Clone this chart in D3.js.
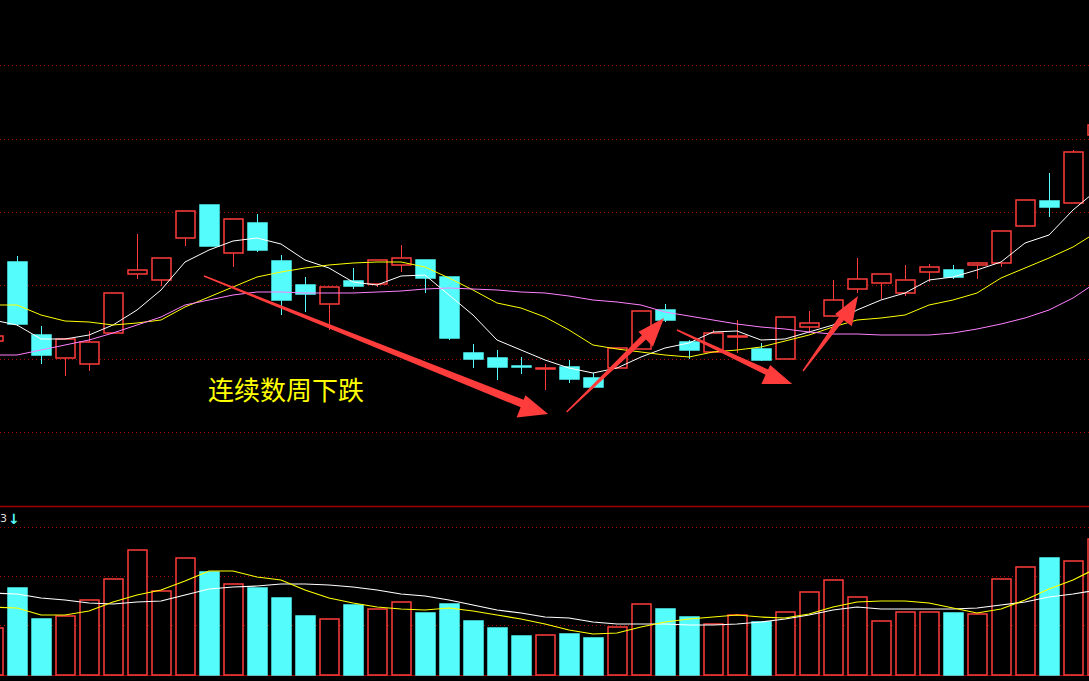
<!DOCTYPE html>
<html>
<head>
<meta charset="utf-8">
<script src="https://cdn.jsdelivr.net/npm/d3@7"></script>
<style>
  html, body { margin: 0; padding: 0; background: #000; overflow: hidden; }
  svg { display: block; }
</style>
</head>
<body>
<svg id="chart" width="1089" height="681"></svg>
<script>
// candles: [open, high, low, close]
const candles = [
  [159,164,159,164],[238,244,174,176],[165,174,136,145],[142,162,124,161],
  [136,169,129,158],[167,207,167,207],[226,266,221,230],[220,242,214,242],
  [262,289,254,289],[295,295,254,254],[247,281,233,281],[277,286,248,250],
  [239,245,185,200],[215,223,188,206],[196,213,170,213],[219,232,211,214],
  [216,240,213,240],[235,255,228,242],[240,240,207,222],[223,223,160,162],
  [147,156,132,141],[142,150,120,133],[134,143,126,133],[131,136,110,132],
  [133,140,117,121],[122,127,113,113],[132,152,132,152],[151,189,151,189],
  [190,196,178,180],[158,160,141,150],[148,170,148,167],[163,180,147,164],
  [151,157,139,140],[141,183,141,183],[173,189,167,177],[184,220,184,200],
  [211,242,207,221],[217,226,201,226],[207,235,204,220],[228,236,218,233],
  [230,235,221,223],[235,238,221,237],[237,269,233,269],[274,300,274,300],
  [299,327,283,293],[297,350,297,348],[365,380,360,375]
];
const ma5 = [180,175,161,161,165,175,190,210,238,250,259,262,256,240,232,218,215,224,225,205,
  185,160,150,140,132,127,132,143,152,157,168,169,160,161,168,175,190,200,207,220,
  223,230,238,257,265,290,310];
const ma10 = [195,195,185,179,178,175,177,180,193,203,213,223,228,232,235,237,238,238,233,222,
  210,197,192,183,170,155,151,148,145,143,148,150,153,159,165,173,180,182,185,195,
  200,207,222,232,242,253,268];
const ma20 = [145,145,150,155,160,167,175,183,195,200,205,208,208,207,207,207,208,209,211,212,
  211,210,208,207,204,200,198,195,188,184,180,176,173,171,168,166,166,165,165,165,
  167,171,176,182,190,202,218];
const volume = [47,87,56,59,75,96,125,84,117,103,91,87,77,59,56,70,66,73,62,71,
  54,47,39,40,41,37,48,71,66,58,51,60,53,63,83,95,78,54,63,63,
  62,61,96,108,117,114,136];
const volMa1 = [82,81,77,75,72,71,73,74,80,86,88,89,91,91,90,88,85,81,79,75,
  70,65,62,58,57,53,51,51,51,50,50,51,53,56,60,65,68,66,66,66,
  66,67,70,73,78,81,85];
const volMa2 = [68,67,60,60,64,73,80,85,94,104,104,98,95,85,77,72,68,66,65,67,
  64,60,56,51,45,41,42,48,53,56,58,60,58,57,61,68,73,74,74,72,
  67,62,66,75,86,95,107];
const priceGrid = [434.7, 361.3, 288, 214.7, 141.3, 68];
const volGrid = [148, 99, 50];
const arrows = [
  { from: [8.79, 224], to: [23.13, 86], w: 8 },
  { from: [23.9, 88], to: [27.96, 182], w: 6 },
  { from: [28.5, 170], to: [33.3, 116], w: 6 },
  { from: [33.75, 129], to: [36.04, 204], w: 6 }
];
const label = "连续数周下跌";

const UP = "#ff3c3c", DOWN = "#54fcfc", GRID = "#a00000";
const W = 1089;
const svg = d3.select("#chart");

const x = d3.scaleLinear().domain([0, 1]).range([-7, 17]);
const y = d3.scaleLinear().domain([0, 500]).range([500, 0]);
const yv = d3.scaleLinear().domain([0, 150]).range([675, 525]);
const bw = 19;

// grid
svg.append("g").selectAll("line").data(priceGrid).enter().append("line")
  .attr("x1", 0).attr("x2", W)
  .attr("y1", d => Math.round(y(d)) + 0.5).attr("y2", d => Math.round(y(d)) + 0.5)
  .attr("stroke", GRID).attr("stroke-dasharray", "1,3");
svg.append("g").selectAll("line").data(volGrid).enter().append("line")
  .attr("x1", 0).attr("x2", W)
  .attr("y1", d => Math.round(yv(d)) + 0.5).attr("y2", d => Math.round(yv(d)) + 0.5)
  .attr("stroke", GRID).attr("stroke-dasharray", "1,3");
svg.append("line").attr("x1", 0).attr("x2", W).attr("y1", 506.5).attr("y2", 506.5)
  .attr("stroke", GRID).attr("stroke-width", 1.5);
svg.append("line").attr("x1", 0).attr("x2", W).attr("y1", yv(0) + 0.5).attr("y2", yv(0) + 0.5)
  .attr("stroke", GRID);

// candles
const cg = svg.append("g").selectAll("g").data(candles).enter().append("g");
cg.each(function (d, i) {
  const g = d3.select(this);
  const up = d[3] >= d[0];
  const col = up ? UP : DOWN;
  const cx = Math.round(x(i)) + 0.5;
  const top = y(Math.max(d[0], d[3])), bot = y(Math.min(d[0], d[3]));
  g.append("line").attr("x1", cx).attr("x2", cx).attr("y1", y(d[1])).attr("y2", top).attr("stroke", col);
  g.append("line").attr("x1", cx).attr("x2", cx).attr("y1", bot).attr("y2", y(d[2])).attr("stroke", col);
  g.append("rect")
    .attr("x", cx - bw / 2).attr("y", top)
    .attr("width", bw).attr("height", Math.max(1, bot - top))
    .attr("fill", up ? "#000" : col).attr("stroke", col).attr("stroke-width", 1.5);
});

// price MAs
const line = d3.line().x((d, i) => x(i)).y(d => y(d));
[[ma5, "#ffffff"], [ma10, "#ffff00"], [ma20, "#ff80ff"]].forEach(([data, c]) => {
  svg.append("path").datum(data).attr("d", line).attr("fill", "none").attr("stroke", c).attr("stroke-width", 1);
});

// volume bars
svg.append("g").selectAll("rect").data(volume).enter().append("rect")
  .attr("x", (d, i) => Math.round(x(i)) + 0.5 - bw / 2)
  .attr("y", d => yv(d))
  .attr("width", bw)
  .attr("height", d => yv(0) - yv(d))
  .attr("fill", (d, i) => candles[i][3] >= candles[i][0] ? "#000" : DOWN)
  .attr("stroke", (d, i) => candles[i][3] >= candles[i][0] ? UP : DOWN)
  .attr("stroke-width", 1.5);

const vline = d3.line().x((d, i) => x(i)).y(d => yv(d));
[[volMa1, "#ffffff"], [volMa2, "#ffff00"]].forEach(([data, c]) => {
  svg.append("path").datum(data).attr("d", vline).attr("fill", "none").attr("stroke", c).attr("stroke-width", 1.2);
});

// volume header remnant
svg.append("text").attr("x", 0).attr("y", 522).attr("fill", "#ddd")
  .attr("font-family", "DejaVu Sans").attr("font-size", 11).text("3");
svg.append("text").attr("x", 8).attr("y", 524).attr("fill", DOWN)
  .attr("font-family", "DejaVu Sans").attr("font-size", 14).attr("font-weight", "bold").text("↓");

// annotation arrows
arrows.forEach(a => {
  const x0 = x(a.from[0]), y0 = y(a.from[1]), x1 = x(a.to[0]), y1 = y(a.to[1]);
  const dx = x1 - x0, dy = y1 - y0, len = Math.hypot(dx, dy);
  const ux = dx / len, uy = dy / len, nx = -uy, ny = ux;
  const hl = 28, hw = a.w + 7;
  const bx = x1 - ux * hl, by = y1 - uy * hl;
  const pts = [
    [x0 + nx * 0.7, y0 + ny * 0.7],
    [bx + nx * a.w / 2, by + ny * a.w / 2],
    [bx + nx * hw, by + ny * hw],
    [x1, y1],
    [bx - nx * hw * 0.6, by - ny * hw * 0.6],
    [bx - nx * a.w / 2, by - ny * a.w / 2],
    [x0 - nx * 0.7, y0 - ny * 0.7]
  ];
  svg.append("polygon").attr("points", pts.map(p => p.join(",")).join(" "))
    .attr("fill", "#ff3c3c");
});

svg.append("text").attr("x", 208).attr("y", 400)
  .attr("fill", "#ffff00").attr("font-family", "Noto Sans CJK SC").attr("font-size", 26)
  .text(label);
</script>
</body>
</html>
